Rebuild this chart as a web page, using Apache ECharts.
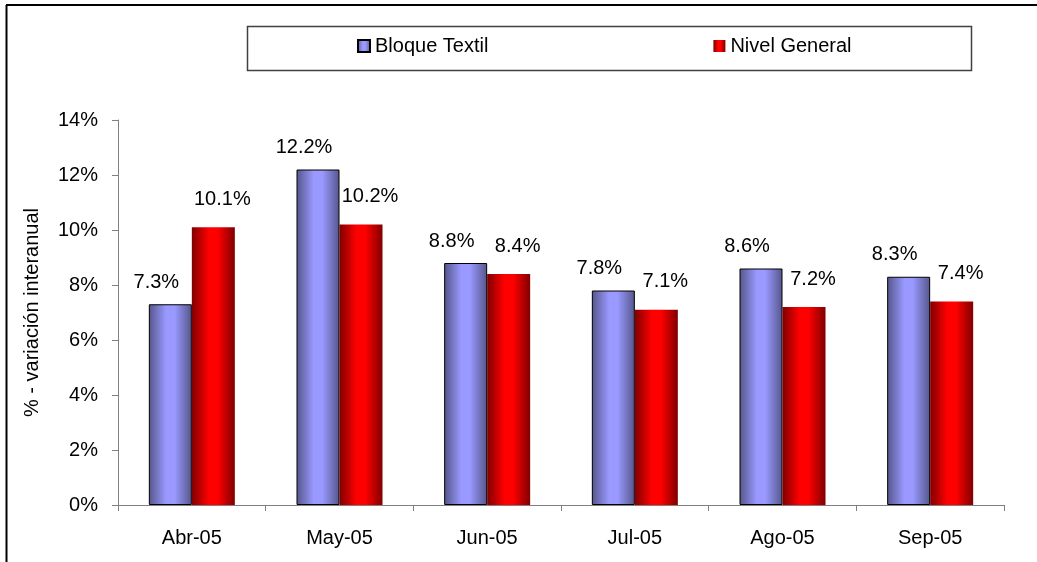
<!DOCTYPE html>
<html>
<head>
<meta charset="utf-8">
<script src="https://cdn.jsdelivr.net/npm/echarts@6/dist/echarts.min.js"></script>
<style>
html, body { margin: 0; padding: 0; background: #fff; }
#chart { width: 1037px; height: 562px; }
</style>
</head>
<body>
<div id="chart"></div>
<script>
// datos
var meses = ['Abr-05', 'May-05', 'Jun-05', 'Jul-05', 'Ago-05', 'Sep-05'];
var bloqueTextil = [7.3, 12.2, 8.8, 7.8, 8.6, 8.3];
var nivelGeneral = [10.1, 10.2, 8.4, 7.1, 7.2, 7.4];

var fuente = '"Liberation Sans", Arial, sans-serif';

function degradado(oscuro, claro) {
	return new echarts.graphic.LinearGradient(0, 0, 1, 0, [
		{ offset: 0, color: oscuro },
		{ offset: 0.4, color: claro },
		{ offset: 0.6, color: claro },
		{ offset: 1, color: oscuro }
	]);
}

var chart = echarts.init(document.getElementById('chart'));

var option = {
	animation: false,
	textStyle: { fontFamily: fuente, color: '#000' },
	grid: { left: 118, right: 33, top: 120, bottom: 57 },
	legend: {
		left: 357,
		top: 36,
		padding: 0,
		icon: 'rect',
		itemWidth: 12,
		itemHeight: 12,
		itemGap: 225,
		textStyle: { fontFamily: fuente, fontSize: 20, color: '#000' },
		data: ['Bloque Textil', 'Nivel General']
	},
	graphic: [
		{ type: 'rect', shape: { x: 247.5, y: 26.5, width: 724, height: 44 },
		  style: { fill: 'none', stroke: '#404040', lineWidth: 1.5 } },
		{ type: 'line', shape: { x1: 6, y1: 5, x2: 1037, y2: 5 },
		  style: { stroke: '#000', lineWidth: 2 } },
		{ type: 'line', shape: { x1: 6.5, y1: 5, x2: 6.5, y2: 562 },
		  style: { stroke: '#000', lineWidth: 2 } }
	],
	xAxis: {
		type: 'category',
		data: meses,
		axisLine: { lineStyle: { color: '#808080' } },
		axisTick: { show: true, length: 6, lineStyle: { color: '#808080' } },
		axisLabel: { fontSize: 20, color: '#000', margin: 23, fontFamily: fuente }
	},
	yAxis: {
		type: 'value',
		min: 0,
		max: 14,
		interval: 2,
		name: '% - variación interanual',
		nameLocation: 'middle',
		nameGap: 76,
		nameTextStyle: { fontSize: 20, color: '#000', fontFamily: fuente },
		axisLine: { show: true, lineStyle: { color: '#808080' } },
		axisTick: { show: true, length: 6, lineStyle: { color: '#808080' } },
		splitLine: { show: false },
		axisLabel: { fontSize: 20, color: '#000', margin: 20, fontFamily: fuente,
			formatter: function (v) { return v + '%'; } }
	},
	series: [
		{
			name: 'Bloque Textil',
			type: 'bar',
			data: bloqueTextil,
			barWidth: 43,
			barGap: '0%',
			itemStyle: { color: degradado('#55558a', '#9999ff'), borderColor: '#000', borderWidth: 1 },
			label: { show: true, position: 'top', distance: 12, offset: [-14, 0],
				fontSize: 20, color: '#000', fontFamily: fuente,
				formatter: function (p) { return p.value.toFixed(1) + '%'; } }
		},
		{
			name: 'Nivel General',
			type: 'bar',
			data: nivelGeneral,
			barWidth: 43,
			itemStyle: { color: degradado('#800000', '#ff0000') },
			label: { show: true, position: 'top', distance: 18, offset: [9, 0],
				fontSize: 20, color: '#000', fontFamily: fuente,
				formatter: function (p) { return p.value.toFixed(1) + '%'; } }
		}
	]
};

chart.setOption(option);
</script>
</body>
</html>
